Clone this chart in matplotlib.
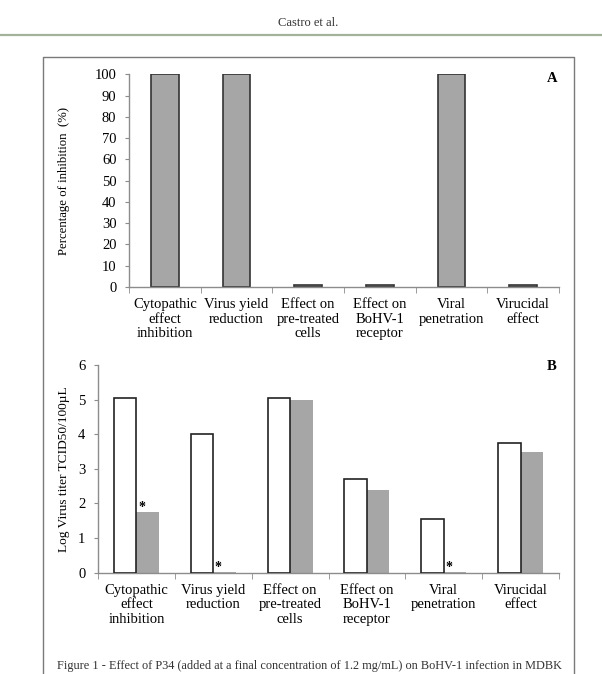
import matplotlib.pyplot as plt
import matplotlib.ticker as tck
from matplotlib.lines import Line2D
import numpy as np

plt.rcParams['font.family'] = ['Liberation Serif', 'DejaVu Serif']

# category names shared by both panels
categories = ['Cytopathic\neffect\ninhibition', 'Virus yield\nreduction', 'Effect on\npre-treated\ncells',
              'Effect on\nBoHV-1\nreceptor', 'Viral\npenetration', 'Virucidal\neffect']

# panel A: percentage of inhibition
inhibition_pct = [100, 100, 1, 1, 100, 1]

# panel B: log virus titer, control (white) and treated (grey)
titer_control = [5.05, 4.0, 5.05, 2.7, 1.55, 3.75]
titer_treated = [1.75, 0.02, 5.0, 2.4, 0.02, 3.5]
significant = [True, True, False, False, True, False]

W, H = 602, 674
fig = plt.figure(figsize=(W / 100, H / 100), dpi=100)

axis_gray = '#8c8c8c'
bar_gray = '#a6a6a6'


def px_box(left, right, top, bottom):
    # pixel coordinates (from top-left) to figure fraction
    return [left / W, 1 - bottom / H, (right - left) / W, (bottom - top) / H]


def style_axes(ax):
    for s in ['top', 'right']:
        ax.spines[s].set_visible(False)
    for s in ['left', 'bottom']:
        ax.spines[s].set_color(axis_gray)
        ax.spines[s].set_linewidth(1.0)
    x = np.arange(len(categories))
    ax.set_xlim(-0.5, len(categories) - 0.5)
    ax.set_xticks(x)
    ax.set_xticklabels(categories, fontsize=10.5, linespacing=1.15)
    ax.xaxis.set_minor_locator(tck.FixedLocator(np.arange(len(categories) + 1) - 0.5))
    ax.tick_params(axis='x', which='major', length=0, pad=8)
    ax.tick_params(axis='x', which='minor', length=4, color=axis_gray, direction='out')
    ax.tick_params(axis='y', length=3, color=axis_gray, labelsize=10.5, pad=6)


# page header
fig.text(308 / W, 1 - 23 / H, 'Castro et al.', ha='center', va='center', fontsize=9, color='#333333')
fig.add_artist(Line2D([0, 1], [1 - 35 / H, 1 - 35 / H], color='#a3b39b', lw=1.6))

# outer frame around both panels (bottom edge lies below the picture)
fig.add_artist(Line2D([43 / W, 574 / W, 574 / W, 43 / W, 43 / W],
                      [-0.05, -0.05, 1 - 57 / H, 1 - 57 / H, -0.05], color='#7a7a7a', lw=1.0))

# ---- panel A ----
axA = fig.add_axes(px_box(129, 559, 74.3, 287))
xA = np.arange(len(categories))
axA.bar(xA, inhibition_pct, width=0.39, color=bar_gray, edgecolor='#333333', linewidth=1.2)
axA.set_ylim(0, 100)
axA.set_yticks(np.arange(0, 101, 10))
style_axes(axA)
axA.set_ylabel('Percentage of inhibition  (%)', fontsize=9.2)
axA.yaxis.set_label_coords(-0.137, 0.5)
fig.text(552 / W, 1 - 78 / H, 'A', ha='center', va='center', fontsize=10.5, fontweight='bold')

# ---- panel B ----
axB = fig.add_axes(px_box(98, 559, 365, 572.7))
xB = np.arange(len(categories))
bw = 0.293
axB.bar(xB - bw / 2, titer_control, width=bw, color='white', edgecolor='#222222', linewidth=1.2, zorder=3)
axB.bar(xB + bw / 2, titer_treated, width=bw, color=bar_gray, edgecolor='none', zorder=2)
for i, sig in enumerate(significant):
    if sig:
        axB.text(xB[i] + bw / 2 - 0.08, titer_treated[i] - 0.05, '*', ha='center', va='bottom',
                 fontsize=10, fontweight='bold')
axB.set_ylim(0, 6)
axB.set_yticks(np.arange(0, 7, 1))
style_axes(axB)
axB.set_ylabel('Log Virus titer TCID50/100µL', fontsize=9.6)
axB.yaxis.set_label_coords(-0.061, 0.5)
fig.text(552 / W, 1 - 367 / H, 'B', ha='center', va='center', fontsize=10.5, fontweight='bold')

# figure caption at the foot of the page
fig.text(57 / W, 1 - 672 / H,
         'Figure 1 - Effect of P34 (added at a final concentration of 1.2 mg/mL) on BoHV-1 infection in MDBK',
         ha='left', va='bottom', fontsize=8.8, color='#333333')

plt.savefig('out.png', dpi=100)
